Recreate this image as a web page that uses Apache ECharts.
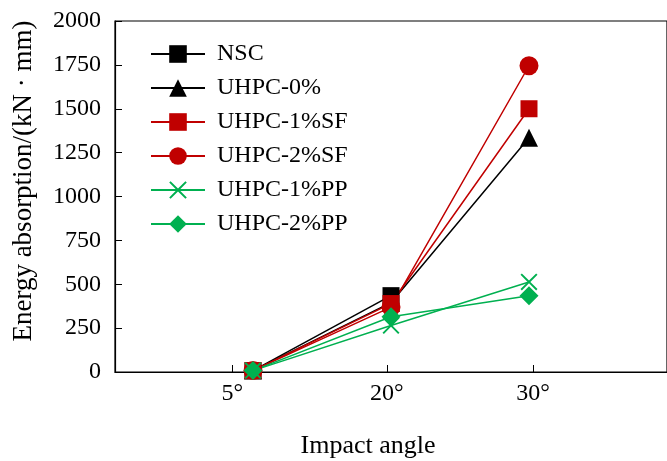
<!DOCTYPE html>
<html>
<head>
<meta charset="utf-8">
<script src="https://cdn.jsdelivr.net/npm/echarts@6/dist/echarts.min.js"></script>
<style>
  html, body { margin: 0; padding: 0; background: #fff; }
  #chart { width: 667px; height: 461px; }
</style>
</head>
<body>
<div id="chart"></div>
<script>
  // categories and where their ticks sit on the x scale
  var angles = ['5°', '20°', '30°'];
  var tickPos = [0.85, 1.97, 3.03];

  // energy absorption (kN·mm) per angle, null = no point
  var nsc   = [8, 435, null];
  var uhpc0 = [8, 395, 1335];
  var sf1   = [8, 390, 1500];
  var sf2   = [8, 370, 1745];
  var pp1   = [8, 265, 513];
  var pp2   = [8, 315, 435];

  var FONT = 'Liberation Serif, Times New Roman, serif';
  var RED = '#c00000', GREEN = '#00b050', BLACK = '#000000';
  var crossPath = 'path://M0,0.8 L0.8,0 L5,4.2 L9.2,0 L10,0.8 L5.8,5 L10,9.2 L9.2,10 L5,5.8 L0.8,10 L0,9.2 L4.2,5 Z';

  function pts(vals) {
    var out = [];
    for (var i = 0; i < vals.length; i++) {
      if (vals[i] != null) out.push([i + 1, vals[i]]);
    }
    return out;
  }

  function mk(name, vals, color, symbol, size) {
    return {
      name: name,
      type: 'line',
      data: pts(vals),
      symbol: symbol,
      symbolSize: size,
      lineStyle: { color: color, width: 1.5 },
      itemStyle: { color: color },
      emphasis: { disabled: true },
      animation: false
    };
  }

  var chart = echarts.init(document.getElementById('chart'));
  chart.setOption({
    backgroundColor: '#fff',
    grid: {
      left: 115, top: 21, width: 555, height: 351,
      show: true, borderColor: '#000', borderWidth: 1.2
    },
    legend: {
      orient: 'vertical',
      left: 145, top: 37,
      itemWidth: 54, itemHeight: 22, itemGap: 10,
      textStyle: { fontFamily: FONT, fontSize: 24, color: '#000', lineHeight: 24, padding: [0, 0, 0, 7] },
      data: ['NSC', 'UHPC-0%', 'UHPC-1%SF', 'UHPC-2%SF', 'UHPC-1%PP', 'UHPC-2%PP']
    },
    xAxis: {
      type: 'value', min: 0, max: 4,
      axisLine: { lineStyle: { color: '#000', width: 1.2 } },
      axisTick: { inside: true, length: 7, customValues: tickPos, lineStyle: { color: '#000' } },
      axisLabel: {
        customValues: tickPos, margin: 10,
        fontFamily: FONT, fontSize: 24, color: '#000',
        formatter: function (v) {
          for (var i = 0; i < tickPos.length; i++) if (Math.abs(tickPos[i] - v) < 1e-6) return angles[i];
          return '';
        }
      },
      splitLine: { show: false }
    },
    yAxis: {
      type: 'value', min: 0, max: 2000, interval: 250,
      axisLine: { show: true, lineStyle: { color: '#000', width: 1.2 } },
      axisTick: { inside: true, length: 7, lineStyle: { color: '#000' } },
      axisLabel: {
        margin: 14, fontFamily: FONT, fontSize: 24, color: '#000',
        formatter: function (v) { return String(v); }
      },
      splitLine: { show: false }
    },
    graphic: [
      {
        type: 'text', x: 24, y: 181, rotation: Math.PI / 2,
        style: { text: 'Energy absorption/(kN · mm)', font: '27px ' + FONT, fill: '#000', align: 'center', verticalAlign: 'middle' }
      },
      {
        type: 'text', x: 368, y: 446,
        style: { text: 'Impact angle', font: '26px ' + FONT, fill: '#000', align: 'center', verticalAlign: 'middle' }
      }
    ],
    series: [
      mk('NSC', nsc, BLACK, 'rect', 17),
      mk('UHPC-0%', uhpc0, BLACK, 'triangle', 18),
      mk('UHPC-1%SF', sf1, RED, 'rect', 17),
      mk('UHPC-2%SF', sf2, RED, 'circle', 19),
      mk('UHPC-1%PP', pp1, GREEN, crossPath, 17),
      mk('UHPC-2%PP', pp2, GREEN, 'diamond', 19)
    ]
  });
</script>
</body>
</html>
